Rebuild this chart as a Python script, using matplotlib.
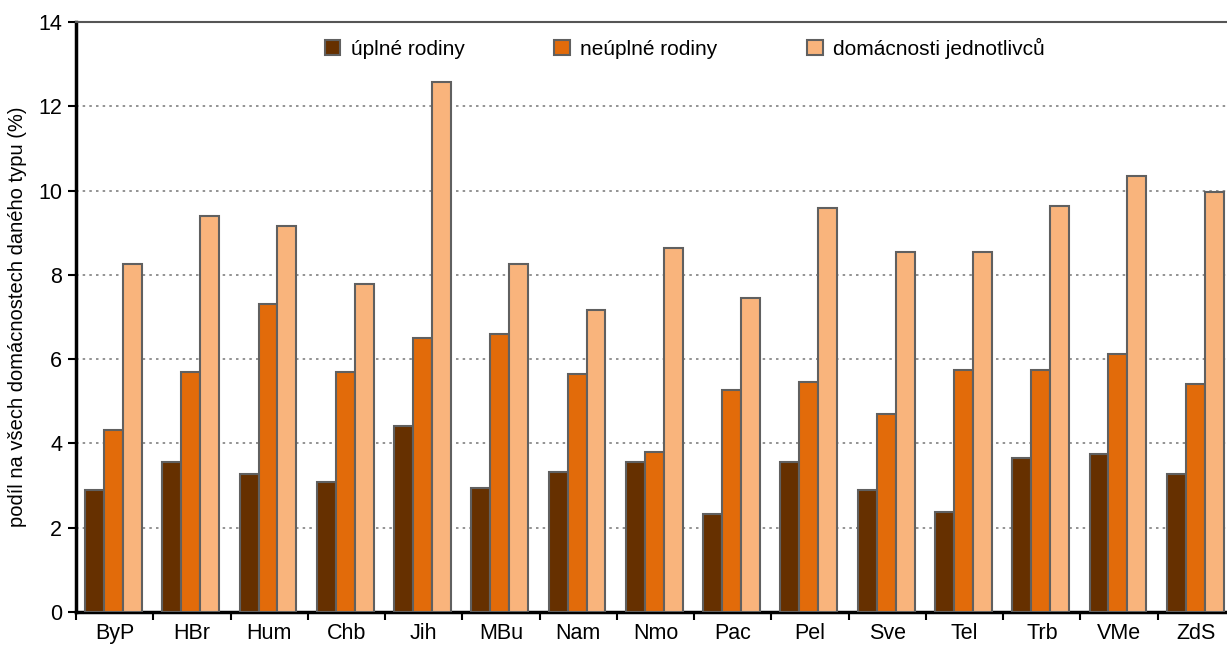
import numpy as np
import matplotlib
matplotlib.use('Agg')
from matplotlib import pyplot as plt

categories = ['ByP', 'HBr', 'Hum', 'Chb', 'Jih', 'MBu', 'Nam', 'Nmo',
              'Pac', 'Pel', 'Sve', 'Tel', 'Trb', 'VMe', 'ZdS']
uplne = [2.9, 3.56, 3.27, 3.09, 4.41, 2.94, 3.32, 3.56, 2.33, 3.56, 2.9, 2.37, 3.65, 3.76, 3.28]
neuplne = [4.32, 5.7, 7.31, 5.7, 6.5, 6.6, 5.65, 3.8, 5.27, 5.46, 4.7, 5.74, 5.74, 6.12, 5.41]
jednotlivci = [8.26, 9.4, 9.16, 7.78, 12.58, 8.26, 7.17, 8.64, 7.45, 9.59, 8.54, 8.54, 9.63, 10.35, 9.97]
series_names = ['úplné rodiny', 'neúplné rodiny', 'domácnosti jednotlivců']

plt.rcParams['font.family'] = ['Liberation Sans', 'DejaVu Sans']

fig = plt.figure(figsize=(12.27, 6.48), dpi=100)
ax = fig.add_axes([76/1227, 36/648, 1159/1227, 590/648])

x = np.arange(len(categories))
w = 0.245
colors = ['#663000', '#E26B0A', '#F9B47C']
edge = '#606060'
for i, (vals, c, name) in enumerate(zip([uplne, neuplne, jednotlivci], colors, series_names)):
    ax.bar(x + (i - 1) * w - 0.015, vals, w, color=c, edgecolor=edge, linewidth=1.5,
           label=name, zorder=3)

ax.set_xlim(-0.5, len(categories) - 0.5)
ax.set_ylim(0, 14)
ax.set_yticks(np.arange(0, 15, 2))
ax.yaxis.grid(True, linestyle=(0, (1.5, 2.5)), color='#808080', linewidth=1.2, zorder=0)

# category boundaries as major ticks, labels on minor ticks
ax.set_xticks(np.arange(-0.5, len(categories), 1))
ax.set_xticklabels([])
ax.set_xticks(x, minor=True)
ax.set_xticklabels(categories, minor=True)
ax.tick_params(axis='x', which='minor', length=0, pad=8, labelsize=15.5)
ax.tick_params(axis='x', which='major', length=6, width=1.5)
ax.tick_params(axis='y', length=6, width=1.5, labelsize=15.5, pad=4)

for s in ['left', 'bottom']:
    ax.spines[s].set_linewidth(2.5)
    ax.spines[s].set_color('black')
ax.spines['top'].set_color('#555555')
ax.spines['top'].set_linewidth(1.5)
ax.spines['right'].set_visible(False)

ax.set_ylabel('podíl na všech domácnostech daného typu (%)', fontsize=14.5, labelpad=8)

fig.legend(loc='center', bbox_to_anchor=(0.558, 0.925), ncol=3, frameon=False,
           fontsize=15, handlelength=0.75, handleheight=0.75, columnspacing=4.3,
           handletextpad=0.5)

fig.savefig('out.png', dpi=100)
